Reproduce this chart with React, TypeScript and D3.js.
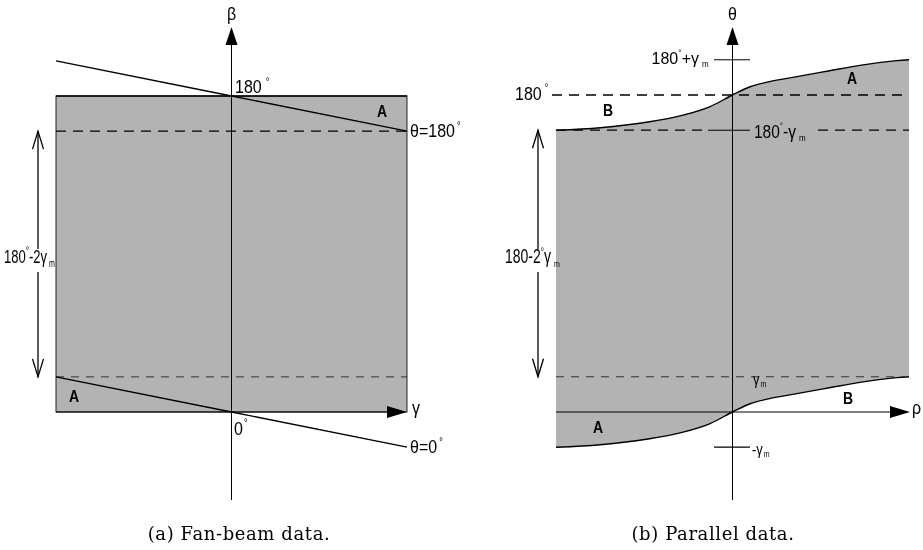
import React from "react";
import * as d3 from "d3";

// half fan angle (gamma_m) in degrees
const gammaM = 20;

// (a) fan-beam: detector angle gamma and the two projection-angle lines
const fanGamma = [-20, 0, 20];
const fanBetaTheta180 = [200, 180, 160];
const fanBetaTheta0 = [20, 0, -20];

// (b) parallel: normalised rho and offset of the boundary curve from 0 / 180
const parRho = [-1, -0.75, -0.47, -0.28, -0.13, 0, 0.1, 0.21, 0.365, 0.55, 0.74, 0.93, 1];
const parOffset = [-20, -18.6, -15.2, -11.4, -6.7, 0, 4.7, 7.6, 10.4, 13.8, 17.1, 19.5, 20];

const captions = ["(a) Fan-beam data.", "(b) Parallel data."];

const W = 923;
const H = 550;
const FONT = "'Liberation Sans', Arial, Helvetica, sans-serif";
const GRAY = "#b3b3b3";

function T({ x, y, size = 16, sy = 1.15, anchor = "start", weight = "normal", children }: any) {
  return (
    <text
      transform={`translate(${x},${y}) scale(1,${sy})`}
      fontSize={size}
      textAnchor={anchor}
      fontWeight={weight}
      fontFamily={FONT}
      fill="#000"
    >
      {children}
    </text>
  );
}

function UpArrow({ x, y }: { x: number; y: number }) {
  return <path d={`M${x},${y}L${x - 6},${y + 18}L${x + 6},${y + 18}Z`} fill="#000" />;
}
function RightArrow({ x, y }: { x: number; y: number }) {
  return <path d={`M${x},${y}L${x - 20},${y - 6}L${x - 20},${y + 6}Z`} fill="#000" />;
}

function DoubleArrow({ x, y1, y2, gapTop, gapBottom }: any) {
  return (
    <g stroke="#000" strokeWidth={1.3} fill="none">
      <line x1={x} y1={y1} x2={x} y2={gapTop} />
      <line x1={x} y1={gapBottom} x2={x} y2={y2} />
      <path d={`M${x - 5.5},${y1 + 18}L${x},${y1}L${x + 5.5},${y1 + 18}`} />
      <path d={`M${x - 5.5},${y2 - 18}L${x},${y2}L${x + 5.5},${y2 - 18}`} />
    </g>
  );
}

export default function App() {
  // fan-beam scales
  const xL = d3.scaleLinear().domain([-gammaM, gammaM]).range([56, 407]);
  const yL = d3.scaleLinear().domain([0, 180]).range([412, 96]);
  // parallel scales
  const xR = d3.scaleLinear().domain([-1, 1]).range([556, 909]);
  const yR = d3.scaleLinear().domain([0, 180]).range([412, 95]);

  const fanLine = d3
    .line<number>()
    .x((d, i) => xL(fanGamma[i]))
    .y((d) => yL(d));

  const pts = parRho.map((r, i) => ({ r, o: parOffset[i] }));
  const topCurve = d3
    .line<any>()
    .x((d) => xR(d.r))
    .y((d) => yR(180 + d.o))
    .curve(d3.curveCatmullRom);
  const botCurve = d3
    .line<any>()
    .x((d) => xR(d.r))
    .y((d) => yR(d.o))
    .curve(d3.curveCatmullRom);
  const band = d3
    .area<any>()
    .x((d) => xR(d.r))
    .y0((d) => yR(d.o))
    .y1((d) => yR(180 + d.o))
    .curve(d3.curveCatmullRom);

  const axL = xL(0);
  const axR = xR(0);

  return (
    <svg
      width={W}
      height={H}
      style={{ position: "absolute", left: 0, top: 0, background: "#fff" }}
    >
      <defs>
        {/* pass-through filter so labels are rasterised in grayscale */}
        <filter id="gray-text" x="0" y="0" width="100%" height="100%">
          <feOffset dx={0} dy={0} />
        </filter>
      </defs>

      {/* ---------- (a) fan-beam ---------- */}
      <rect
        x={xL(-gammaM)}
        y={yL(180)}
        width={xL(gammaM) - xL(-gammaM)}
        height={yL(0) - yL(180)}
        fill={GRAY}
        stroke="#222"
        strokeWidth={1}
      />
      <line x1={xL(-gammaM)} x2={xL(gammaM)} y1={yL(180)} y2={yL(180)} stroke="#000" strokeWidth={1.3} />
      <line
        x1={xL(-gammaM)} x2={xL(gammaM)}
        y1={yL(180 - gammaM)} y2={yL(180 - gammaM)}
        stroke="#000" strokeWidth={1.3} strokeDasharray="10,7"
      />
      <line
        x1={xL(-gammaM)} x2={xL(gammaM)}
        y1={yL(gammaM)} y2={yL(gammaM)}
        stroke="#333" strokeWidth={1} strokeDasharray="8,7"
      />
      <path d={fanLine(fanBetaTheta180) || ""} fill="none" stroke="#000" strokeWidth={1.4} />
      <path d={fanLine(fanBetaTheta0) || ""} fill="none" stroke="#000" strokeWidth={1.4} />
      {/* axes */}
      <line x1={axL} x2={axL} y1={44} y2={500} stroke="#000" strokeWidth={1} />
      <UpArrow x={axL} y={27} />
      <line x1={xL(-gammaM)} x2={388} y1={yL(0)} y2={yL(0)} stroke="#000" strokeWidth={1} />
      <RightArrow x={407} y={yL(0)} />
      <DoubleArrow x={38} y1={yL(180 - gammaM)} y2={yL(gammaM)} gapTop={249} gapBottom={272} />

      {/* ---------- (b) parallel ---------- */}
      <path d={band(pts) || ""} fill={GRAY} stroke="none" />
      <path d={topCurve(pts) || ""} fill="none" stroke="#000" strokeWidth={1.4} />
      <path d={botCurve(pts) || ""} fill="none" stroke="#000" strokeWidth={1.4} />
      <line
        x1={552} x2={xR(1)} y1={yR(180)} y2={yR(180)}
        stroke="#000" strokeWidth={1.3} strokeDasharray="10,7"
      />
      <line
        x1={xR(-1)} x2={705} y1={yR(180 - gammaM)} y2={yR(180 - gammaM)}
        stroke="#000" strokeWidth={1.3} strokeDasharray="10,7"
      />
      <line
        x1={818} x2={xR(1)} y1={yR(180 - gammaM)} y2={yR(180 - gammaM)}
        stroke="#000" strokeWidth={1.3} strokeDasharray="10,7"
      />
      <line x1={708} x2={750} y1={yR(180 - gammaM)} y2={yR(180 - gammaM)} stroke="#000" strokeWidth={1} />
      <line
        x1={xR(-1)} x2={xR(1)} y1={yR(gammaM)} y2={yR(gammaM)}
        stroke="#333" strokeWidth={1} strokeDasharray="8,7"
      />
      <line x1={714} x2={750} y1={yR(180 + gammaM)} y2={yR(180 + gammaM)} stroke="#000" strokeWidth={1} />
      <line x1={714} x2={750} y1={yR(-gammaM)} y2={yR(-gammaM)} stroke="#000" strokeWidth={1.3} />
      {/* axes */}
      <line x1={axR} x2={axR} y1={44} y2={500} stroke="#000" strokeWidth={1} />
      <UpArrow x={axR} y={27} />
      <line x1={xR(-1)} x2={890} y1={yR(0)} y2={yR(0)} stroke="#000" strokeWidth={1} />
      <RightArrow x={910} y={yR(0)} />
      <DoubleArrow x={538} y1={yR(180 - gammaM)} y2={yR(gammaM)} gapTop={249} gapBottom={272} />

      {/* ---------- labels ---------- */}
      <g filter="url(#gray-text)">
        <T x={axL} y={20} anchor="middle">β</T>
        <T x={235} y={93}>
          180<tspan fontSize={9} dx={4} dy={-7}>°</tspan>
        </T>
        <T x={377} y={117} size={14} weight="bold">A</T>
        <T x={410} y={137}>
          θ=180<tspan fontSize={9} dx={2} dy={-7}>°</tspan>
        </T>
        <T x={4} y={263} size={13} sy={1.45}>
          180<tspan fontSize={8} dy={-6}>°</tspan>
          <tspan dy={6}>-2γ</tspan>
          <tspan fontSize={7} dx={2} dy={3}>m</tspan>
        </T>
        <T x={69} y={402} size={14} weight="bold">A</T>
        <T x={412} y={414}>γ</T>
        <T x={234} y={435}>
          0<tspan fontSize={9} dx={1} dy={-8}>°</tspan>
        </T>
        <T x={410} y={453}>
          θ=0<tspan fontSize={9} dx={2} dy={-7}>°</tspan>
        </T>

        <T x={axR} y={20} anchor="middle">θ</T>
        <T x={651.5} y={63.5} sy={1.05}>
          180<tspan fontSize={9} dy={-7}>°</tspan>
          <tspan dy={7}>+γ</tspan>
          <tspan fontSize={8} dx={3} dy={3}>m</tspan>
        </T>
        <T x={515} y={100}>
          180<tspan fontSize={9} dx={3} dy={-8}>°</tspan>
        </T>
        <T x={603} y={116} size={14} weight="bold">B</T>
        <T x={847} y={84} size={14} weight="bold">A</T>
        <T x={754} y={137.5} size={15.5} sy={1.2}>
          180<tspan fontSize={8} dy={-7}>°</tspan>
          <tspan dy={7}>-γ</tspan>
          <tspan fontSize={8} dx={3} dy={3}>m</tspan>
        </T>
        <T x={505} y={263} size={14} sy={1.4}>
          180-2<tspan fontSize={8} dy={-6}>°</tspan>
          <tspan dy={6}>γ</tspan>
          <tspan fontSize={7} dx={3} dy={3}>m</tspan>
        </T>
        <T x={753} y={385} size={13} sy={1.2}>
          γ<tspan fontSize={7} dx={1} dy={2}>m</tspan>
        </T>
        <T x={843} y={404} size={14} weight="bold">B</T>
        <T x={593} y={433} size={14} weight="bold">A</T>
        <T x={752} y={455} size={13} sy={1.2}>
          -γ<tspan fontSize={7} dx={1} dy={2}>m</tspan>
        </T>
        <T x={912} y={414}>ρ</T>

        {/* captions */}
        {captions.map((c, i) => (
          <text
            key={c}
            x={i === 0 ? 239 : 713}
            y={540}
            textAnchor="middle"
            fontFamily="'DejaVu Serif', serif"
            fontSize={18}
            letterSpacing={0.6}
            fill="#000"
          >
            {c}
          </text>
        ))}
      </g>
    </svg>
  );
}
